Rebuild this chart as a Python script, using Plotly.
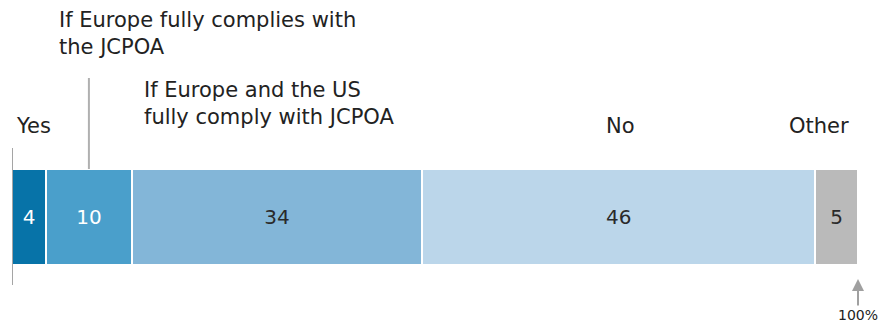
import plotly.graph_objects as go

segments = ["Yes", "If Europe fully complies with the JCPOA",
            "If Europe and the US fully comply with JCPOA", "No", "Other"]
values = [4, 10, 34, 46, 5]
colors = ["#0773a8", "#4a9fcb", "#83b6d8", "#bbd6ea", "#bababa"]
text_colors = ["#ffffff", "#ffffff", "#2a2a2a", "#2a2a2a", "#2a2a2a"]

FONT = "DejaVu Sans"
OFF = 8  # page body margin
W, H = 894 - OFF, 324 - OFF
ML, MR, MT, MB = 12 - OFF, 36, 169 - OFF, 59
PH = H - MT - MB
PW = W - ML - MR


def py(px):
    return (H - MB - (px - OFF)) / PH


def pxx(px):
    return (px - OFF - ML) / PW


total = sum(values)
fig = go.Figure()
for name, v, c, tc in zip(segments, values, colors, text_colors):
    fig.add_trace(go.Bar(
        x=[v], y=[0], orientation="h", name=name,
        marker=dict(color=c, line=dict(color="white", width=2)),
        text=[str(v)], textposition="inside", insidetextanchor="middle",
        textangle=0, constraintext="none",
        textfont=dict(family=FONT, size=20, color=tc),
        hoverinfo="skip", width=1,
    ))

fig.update_layout(
    barmode="stack", width=W, height=H, showlegend=False,
    margin=dict(l=ML, r=MR, t=MT, b=MB),
    paper_bgcolor="white", plot_bgcolor="white",
    xaxis=dict(range=[0, total], visible=False, fixedrange=True),
    yaxis=dict(range=[-0.5, 0.5], visible=False, fixedrange=True),
    font=dict(family=FONT, size=21, color="#222222"),
)

lab = dict(font=dict(family=FONT, size=21, color="#222222"), showarrow=False,
           xref="paper", yref="paper", align="left")
fig.add_annotation(text="Yes", x=pxx(14), y=py(126), xanchor="left", yanchor="middle", **lab)
fig.add_annotation(text="If Europe fully complies with<br>the JCPOA", x=pxx(57), y=py(33),
                   xanchor="left", yanchor="middle", **lab)
fig.add_annotation(text="If Europe and the US<br>fully comply with JCPOA", x=pxx(142), y=py(103.5),
                   xanchor="left", yanchor="middle", **lab)
fig.add_annotation(text="No", x=pxx(620), y=py(126), xanchor="center", yanchor="middle", **lab)
fig.add_annotation(text="Other", x=pxx(819), y=py(126), xanchor="center", yanchor="middle", **lab)

# left baseline
fig.add_shape(type="line", xref="x", yref="paper", x0=0, x1=0, y0=py(148), y1=py(285),
              line=dict(color="#a5a5a5", width=2))
# leader line for second segment
mid2 = values[0] + values[1] / 2
fig.add_shape(type="line", xref="x", yref="paper", x0=mid2, x1=mid2, y0=1, y1=py(78),
              line=dict(color="#b0b0b0", width=2))

# 100% arrow
fig.add_annotation(text="100%", x=total, y=py(279), xref="x", yref="paper",
                   showarrow=True, arrowhead=2, arrowsize=1.2, arrowwidth=2,
                   arrowcolor="#a0a0a0", ax=0, ay=36,
                   font=dict(family=FONT, size=14, color="#222222"))

fig.write_html("out.html")
